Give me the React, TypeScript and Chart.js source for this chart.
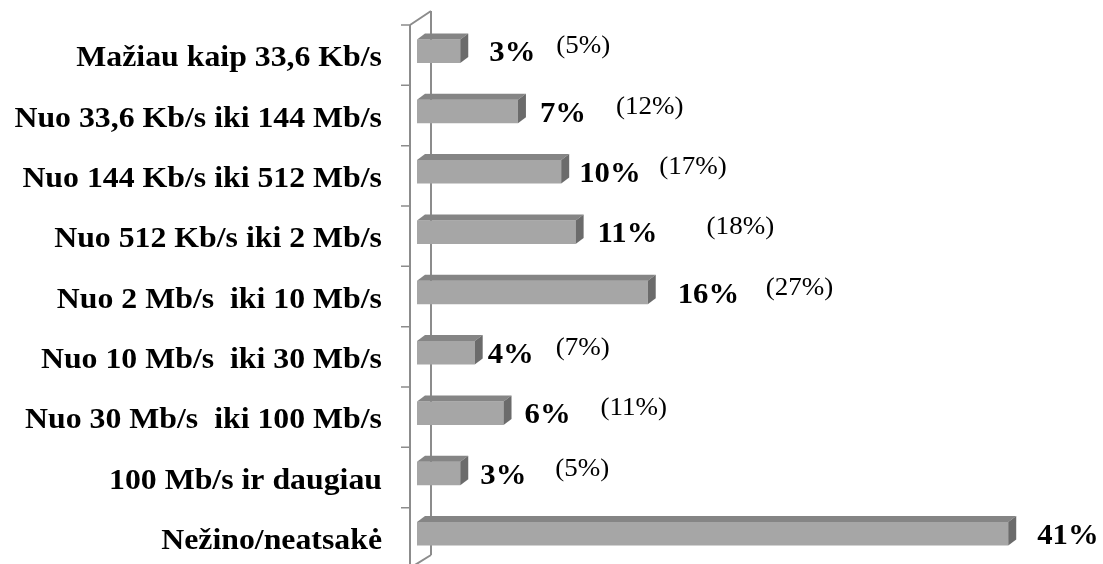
import React, { useEffect, useRef } from "react";
import { Chart, registerables } from "chart.js";

Chart.register(...registerables);

// ---- data ----
const categories = [
  "Mažiau kaip 33,6 Kb/s",
  "Nuo 33,6 Kb/s iki 144 Mb/s",
  "Nuo 144 Kb/s iki 512 Mb/s",
  "Nuo 512 Kb/s iki 2 Mb/s",
  "Nuo 2 Mb/s  iki 10 Mb/s",
  "Nuo 10 Mb/s  iki 30 Mb/s",
  "Nuo 30 Mb/s  iki 100 Mb/s",
  "100 Mb/s ir daugiau",
  "Nežino/neatsakė",
];
const shares = [3, 7, 10, 11, 16, 4, 6, 3, 41];
const altShares: (number | null)[] = [5, 12, 17, 18, 27, 7, 11, 5, null];

// ---- label placement nudges (px, relative to the bar end) ----
const valueLabelGap = [29, 22, 18, 22, 30, 13, 21, 20, 29];
const noteLabelGap = [96, 98, 98, 131, 118, 81, 97, 95, 0];

// ---- styles ----
const FRONT = "#a6a6a6";
const TOP = "#858585";
const SIDE = "#6b6b6b";
const AXIS = "#8c8c8c";
const DX = 8;
const DY = 6;
const STRETCH = 1.06;
const SERIF = '"Liberation Serif", "Times New Roman", serif';

function stretchedText(ctx: CanvasRenderingContext2D, text: string, x: number, y: number) {
  ctx.save();
  ctx.translate(x, y);
  ctx.scale(STRETCH, 1);
  ctx.fillText(text, 0, 0);
  ctx.restore();
}

const pseudo3d = {
  id: "pseudo3d",
  beforeDatasetsDraw(chart: any) {
    const { ctx, chartArea } = chart;
    const { left, top, bottom } = chartArea;
    const step = (bottom - top) / categories.length;
    ctx.save();
    ctx.strokeStyle = AXIS;
    ctx.lineWidth = 2;
    ctx.beginPath();
    ctx.moveTo(left + 14, top - 10);
    ctx.lineTo(left + 14, bottom - 9);
    ctx.moveTo(left - 7, top + 4);
    ctx.lineTo(left - 7, bottom + 4);
    ctx.moveTo(left - 7, top + 4);
    ctx.lineTo(left + 14, top - 10);
    ctx.moveTo(left - 7, bottom + 4);
    ctx.lineTo(left + 14, bottom - 9);
    ctx.stroke();
    ctx.lineWidth = 1.5;
    ctx.beginPath();
    for (let i = 0; i <= categories.length; i++) {
      const y = top + 4 + i * step;
      ctx.moveTo(left - 16, y);
      ctx.lineTo(left - 7, y);
    }
    ctx.stroke();
    ctx.restore();
  },
  afterDatasetsDraw(chart: any) {
    const { ctx, chartArea } = chart;
    const meta = chart.getDatasetMeta(0);
    ctx.save();
    meta.data.forEach((bar: any, i: number) => {
      const { x, y, base, height } = bar.getProps(["x", "y", "base", "height"], true);
      const t = y - height / 2;
      const b = y + height / 2;
      ctx.fillStyle = TOP;
      ctx.beginPath();
      ctx.moveTo(base, t);
      ctx.lineTo(base + DX, t - DY);
      ctx.lineTo(x + DX, t - DY);
      ctx.lineTo(x, t);
      ctx.closePath();
      ctx.fill();
      ctx.fillStyle = SIDE;
      ctx.beginPath();
      ctx.moveTo(x, t);
      ctx.lineTo(x + DX, t - DY);
      ctx.lineTo(x + DX, b - DY);
      ctx.lineTo(x, b);
      ctx.closePath();
      ctx.fill();

      ctx.fillStyle = "#000";
      ctx.textAlign = "left";
      ctx.textBaseline = "alphabetic";
      ctx.font = `bold 29px ${SERIF}`;
      stretchedText(ctx, `${shares[i]}%`, x + valueLabelGap[i], y + 10);
      const alt = altShares[i];
      if (alt !== null && alt !== undefined) {
        ctx.font = `25.5px ${SERIF}`;
        ctx.textBaseline = "middle";
        stretchedText(ctx, `(${alt}%)`, x + noteLabelGap[i], y - 4.5);
      }
    });
    const yS = chart.scales.y;
    ctx.fillStyle = "#000";
    ctx.textAlign = "right";
    ctx.textBaseline = "alphabetic";
    ctx.font = `bold 30px ${SERIF}`;
    categories.forEach((c, i) => {
      const y = yS.getPixelForValue(i);
      stretchedText(ctx, c, chartArea.left - 35, y + 15);
    });
    ctx.restore();
  },
};

export default function App() {
  const ref = useRef<HTMLCanvasElement>(null);
  useEffect(() => {
    let chart: Chart | null = null;
    let cancelled = false;
    const fontsReady = Promise.all([
      document.fonts.load('bold 30px "Liberation Serif"', "Mažiau 3%"),
      document.fonts.load('25px "Liberation Serif"', "(5%)"),
    ]).catch(() => null);
    fontsReady.then(() => {
      if (cancelled || !ref.current) return;
      chart = new Chart(ref.current, {
        type: "bar",
        data: {
          labels: categories,
          datasets: [
            {
              data: shares,
              backgroundColor: FRONT,
              borderWidth: 0,
              barPercentage: 0.39,
              categoryPercentage: 1,
            },
          ],
        },
        options: {
          indexAxis: "y",
          animation: false,
          responsive: false,
          layout: { padding: { top: 21, right: 8.26, bottom: 0, left: 0 } },
          plugins: { legend: { display: false }, tooltip: { enabled: false } },
          scales: {
            x: { type: "linear", min: 0, max: 47, display: false },
            y: {
              display: true,
              grid: { display: false, drawTicks: false },
              border: { display: false },
              ticks: { display: false },
              afterFit: (s: any) => {
                s.width = 417;
              },
            },
          },
        },
        plugins: [pseudo3d],
      } as any);
    });
    return () => {
      cancelled = true;
      if (chart) chart.destroy();
    };
  }, []);
  return (
    <div style={{ position: "fixed", left: 0, top: 0, width: 1103, height: 564, background: "#fff" }}>
      <canvas ref={ref} width={1103} height={564} />
    </div>
  );
}
